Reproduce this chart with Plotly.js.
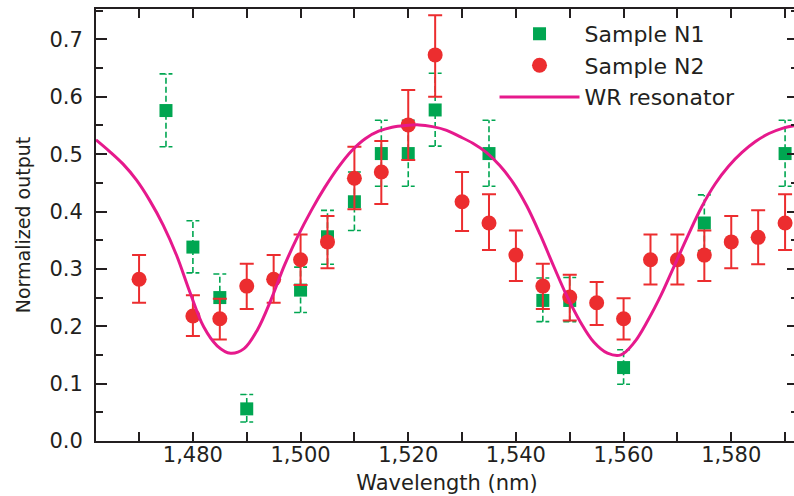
<!DOCTYPE html>
<html>
<head>
<meta charset="utf-8">
<script src="https://cdn.plot.ly/plotly-3.0.1.min.js"></script>
<style>
html, body { margin: 0; padding: 0; overflow: hidden; background: #fff; }
#chart { width: 800px; height: 496px; }
</style>
</head>
<body>
<div id="chart"></div>
<script>
// Sample N1 (green squares, dashed error bars)
const n1X = [1475, 1480, 1485, 1490, 1500, 1505, 1510, 1515, 1520, 1525, 1535, 1545, 1550, 1560, 1575, 1590];
const n1Y = [0.576, 0.338, 0.250, 0.056, 0.263, 0.356, 0.417, 0.501, 0.501, 0.577, 0.501, 0.245, 0.245, 0.128, 0.380, 0.501];
const n1Hi = [0.640, 0.384, 0.291, 0.081, 0.303, 0.402, 0.469, 0.559, 0.559, 0.641, 0.559, 0.284, 0.285, 0.159, 0.429, 0.559];
const n1Lo = [0.513, 0.293, 0.213, 0.033, 0.224, 0.308, 0.367, 0.444, 0.444, 0.514, 0.444, 0.208, 0.208, 0.099, 0.332, 0.444];

// Sample N2 (red circles, solid error bars)
const n2X = [1470, 1480, 1485, 1490, 1495, 1500, 1505, 1510, 1515, 1520, 1525, 1530, 1535, 1540, 1545, 1550, 1555, 1560, 1565, 1570, 1575, 1580, 1585, 1590];
const n2Y = [0.282, 0.218, 0.213, 0.270, 0.282, 0.316, 0.347, 0.458, 0.469, 0.551, 0.673, 0.417, 0.380, 0.324, 0.270, 0.251, 0.241, 0.213, 0.316, 0.316, 0.324, 0.347, 0.355, 0.380];
const n2Hi = [0.324, 0.254, 0.248, 0.309, 0.324, 0.360, 0.392, 0.513, 0.523, 0.612, 0.742, 0.469, 0.430, 0.367, 0.309, 0.290, 0.277, 0.249, 0.360, 0.360, 0.367, 0.392, 0.402, 0.430];
const n2Lo = [0.241, 0.183, 0.177, 0.230, 0.241, 0.272, 0.301, 0.404, 0.413, 0.490, 0.600, 0.366, 0.333, 0.279, 0.230, 0.210, 0.202, 0.177, 0.273, 0.273, 0.279, 0.301, 0.308, 0.333];

// WR resonator curve
const wrX = [1462, 1464.5, 1467, 1469.5, 1472, 1474.5, 1477, 1479.5, 1482, 1484.5, 1487, 1489.5, 1492, 1494.5, 1497, 1499.5, 1502, 1504.5, 1507, 1509.5, 1512, 1514.5, 1517, 1519.5, 1522, 1524.5, 1527, 1529.5, 1532, 1534.5, 1537, 1539.5, 1542, 1544.5, 1547, 1549.5, 1552, 1554.5, 1557, 1559.5, 1562, 1564.5, 1567, 1569.5, 1572, 1574.5, 1577, 1579.5, 1582, 1584.5, 1587, 1589.5, 1592.4];
const wrY = [0.525, 0.505, 0.483, 0.455, 0.419, 0.376, 0.323, 0.258, 0.199, 0.166, 0.153, 0.161, 0.194, 0.246, 0.306, 0.357, 0.402, 0.442, 0.477, 0.506, 0.527, 0.540, 0.547, 0.550, 0.551, 0.548, 0.542, 0.531, 0.519, 0.503, 0.480, 0.450, 0.410, 0.360, 0.305, 0.252, 0.207, 0.172, 0.153, 0.150, 0.172, 0.210, 0.255, 0.307, 0.359, 0.408, 0.448, 0.479, 0.503, 0.522, 0.536, 0.545, 0.551];

const xTickVals = [1480, 1500, 1520, 1540, 1560, 1580];
const yTickVals = [0.0, 0.1, 0.2, 0.3, 0.4, 0.5, 0.6, 0.7];

const GREEN = '#00a651', RED = '#ec2d2f', MAGENTA = '#e6198c', INK = '#231f20';
const FONT = 'DejaVu Sans, Arial, sans-serif';

// dashed error bars for N1 built from the data arrays
const capHalf = 1.2; // nm
const ebX = [], ebY = [];
for (let i = 0; i < n1X.length; i++) {
  const x = n1X[i];
  ebX.push(x, x, null, x - capHalf, x + capHalf, null, x - capHalf, x + capHalf, null);
  ebY.push(n1Lo[i], n1Hi[i], null, n1Hi[i], n1Hi[i], null, n1Lo[i], n1Lo[i], null);
}

const traces = [
  {
    x: ebX, y: ebY, type: 'scatter', mode: 'lines', showlegend: false, hoverinfo: 'skip',
    line: { color: GREEN, width: 1.6, dash: '6px,3px' }
  },
  {
    x: n1X, y: n1Y, type: 'scatter', mode: 'markers', name: 'Sample N1',
    marker: { symbol: 'square', size: 13, color: GREEN }
  },
  {
    x: n2X, y: n2Y, type: 'scatter', mode: 'markers', name: 'Sample N2',
    marker: { symbol: 'circle', size: 15, color: RED },
    error_y: {
      type: 'data', symmetric: false,
      array: n2Y.map((v, i) => n2Hi[i] - v),
      arrayminus: n2Y.map((v, i) => v - n2Lo[i]),
      color: RED, thickness: 2, width: 7
    }
  },
  {
    x: wrX, y: wrY, type: 'scatter', mode: 'lines', name: 'WR resonator',
    line: { color: MAGENTA, width: 3, shape: 'spline', smoothing: 1 }
  }
];

const layout = {
  width: 800, height: 496,
  margin: { l: 96, r: 2, t: 9, b: 55 },
  paper_bgcolor: '#fff', plot_bgcolor: '#fff',
  font: { family: FONT, color: INK, size: 21 },
  showlegend: true,
  legend: {
    x: 0.5677, y: 0.991, xanchor: 'left', yanchor: 'top',
    bgcolor: 'rgba(0,0,0,0)', borderwidth: 0,
    font: { family: FONT, size: 22, color: INK },
    itemwidth: 80, tracegroupgap: 0
  },
  xaxis: {
    range: [1462.0, 1592.4], showgrid: false, zeroline: false,
    showline: true, linecolor: INK, linewidth: 2, mirror: 'ticks',
    ticks: 'inside', ticklen: 9, tickwidth: 2, tickcolor: INK,
    tickvals: xTickVals, tickformat: ',d',
    tickfont: { family: FONT, size: 21, color: INK },
    ticklabelstandoff: -6,
    minor: { dtick: 10, tick0: 1470, ticks: 'inside', ticklen: 9, tickwidth: 2, tickcolor: INK, showgrid: false },
    title: { text: 'Wavelength (nm)', font: { family: FONT, size: 21, color: INK }, standoff: 9 }
  },
  yaxis: {
    range: [0, 0.753], showgrid: false, zeroline: false,
    showline: true, linecolor: INK, linewidth: 2, mirror: 'ticks',
    ticks: 'inside', ticklen: 11, tickwidth: 2, tickcolor: INK,
    tickvals: yTickVals, tickformat: '.1f',
    tickfont: { family: FONT, size: 21, color: INK },
    ticklabelstandoff: 7,
    minor: { dtick: 0.05, tick0: 0.05, ticks: 'inside', ticklen: 7, tickwidth: 2, tickcolor: INK, showgrid: false },
    title: { text: 'Normalized output', font: { family: FONT, size: 19, color: INK }, standoff: 14 }
  }
};

Plotly.newPlot('chart', traces, layout, { displayModeBar: false, staticPlot: true });
</script>
</body>
</html>
